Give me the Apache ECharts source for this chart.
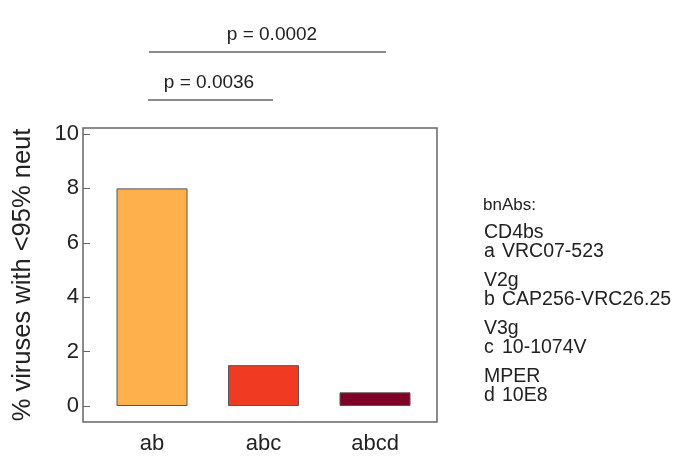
<!DOCTYPE html>
<html>
<head>
<meta charset="utf-8">
<script src="https://cdn.jsdelivr.net/npm/echarts@6/dist/echarts.min.js"></script>
<style>
html, body { margin: 0; padding: 0; background: #fff; }
#chart { width: 674px; height: 463px; }
</style>
</head>
<body>
<div id="chart"></div>
<script>
// data
var categories = ['ab', 'abc', 'abcd'];
var positions = [1, 2, 3];
var values = [8, 1.5, 0.5];
var barColors = ['#FDB04C', '#F03B22', '#800026'];
var yTicks = [0, 2, 4, 6, 8, 10];
var pLabels = ['p = 0.0002', 'p = 0.0036'];
var groupNames = ['CD4bs', 'V2g', 'V3g', 'MPER'];
var abLetters = ['a', 'b', 'c', 'd'];
var abNames = ['VRC07-523', 'CAP256-VRC26.25', '10-1074V', '10E8'];

var FONT = '"Liberation Sans", Arial, sans-serif';

var main = {
	init: function() {
		var myChart = echarts.init(document.getElementById('chart'));

		var barData = positions.map(function(p, i) {
			return {
				value: [p, values[i]],
				itemStyle: { color: barColors[i] }
			};
		});

		// p-value brackets and the antibody key on the right
		var graphic = [
			{ type: 'line', shape: { x1: 149, y1: 52, x2: 386, y2: 52 }, style: { stroke: '#666', lineWidth: 1.5 } },
			{ type: 'text', x: 272, y: 35, style: { text: pLabels[0], fill: '#222', font: '19px ' + FONT, align: 'center', verticalAlign: 'middle' } },
			{ type: 'line', shape: { x1: 148, y1: 100, x2: 273, y2: 100 }, style: { stroke: '#666', lineWidth: 1.5 } },
			{ type: 'text', x: 209, y: 83, style: { text: pLabels[1], fill: '#222', font: '19px ' + FONT, align: 'center', verticalAlign: 'middle' } },
			{ type: 'text', x: 483, y: 205, style: { text: 'bnAbs:', fill: '#222', font: '17px ' + FONT, align: 'left', verticalAlign: 'middle' } }
		];
		groupNames.forEach(function(g, i) {
			var gy = 233 + i * 48;
			graphic.push({ type: 'text', x: 484, y: gy, style: { text: g, fill: '#222', font: '19.5px ' + FONT, align: 'left', verticalAlign: 'middle' } });
			graphic.push({ type: 'text', x: 484, y: gy + 19, style: { text: abLetters[i], fill: '#222', font: '19.5px ' + FONT, align: 'left', verticalAlign: 'middle' } });
			graphic.push({ type: 'text', x: 502, y: gy + 19, style: { text: abNames[i], fill: '#222', font: '19.5px ' + FONT, align: 'left', verticalAlign: 'middle' } });
		});

		var option = {
			animation: false,
			grid: {
				left: 83,
				right: 237,
				top: 128,
				bottom: 41,
				show: true,
				borderColor: '#666',
				borderWidth: 1.5,
				backgroundColor: 'transparent'
			},
			xAxis: {
				type: 'value',
				min: 0.381,
				max: 3.556,
				axisLine: { show: false },
				axisTick: { show: false },
				splitLine: { show: false },
				axisLabel: {
					customValues: positions,
					margin: 11,
					color: '#222',
					fontSize: 22,
					fontFamily: FONT,
					formatter: function(v) {
						var i = positions.indexOf(Math.round(v));
						return i >= 0 ? categories[i] : '';
					}
				}
			},
			yAxis: {
				type: 'value',
				min: -0.59,
				max: 10.22,
				name: '% viruses with <95% neut',
				nameLocation: 'middle',
				nameGap: 47,
				nameTextStyle: { color: '#222', fontSize: 25.5, fontFamily: FONT },
				axisLine: { show: false },
				axisTick: { show: true, inside: true, length: 7, customValues: yTicks, lineStyle: { color: '#666', width: 1 } },
				splitLine: { show: false },
				axisLabel: {
					customValues: yTicks,
					margin: 4,
					color: '#222',
					fontSize: 22,
					fontFamily: FONT
				}
			},
			graphic: graphic,
			series: [{
				type: 'bar',
				barWidth: 71,
				data: barData,
				itemStyle: { borderColor: '#555', borderWidth: 1 }
			}]
		};
		myChart.setOption(option);
	}
};

main.init();
</script>
</body>
</html>
